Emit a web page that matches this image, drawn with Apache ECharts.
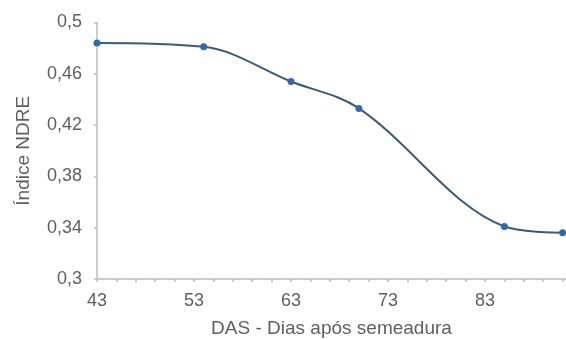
<!DOCTYPE html>
<html>
<head>
<meta charset="utf-8">
<script src="https://cdn.jsdelivr.net/npm/echarts@6/dist/echarts.min.js"></script>
<style>
html,body{margin:0;padding:0;background:#fff;}
#chart{width:566px;height:340px;}
</style>
</head>
<body>
<div id="chart"></div>
<script>
// Data
var dasDays = [43, 54, 63, 70, 85, 91];
var ndreValues = [0.484, 0.481, 0.454, 0.433, 0.341, 0.336];
var xTickLabels = [43, 53, 63, 73, 83];
var yTickLabels = ['0,3', '0,34', '0,38', '0,42', '0,46', '0,5'];
var yTickValues = [0.3, 0.34, 0.38, 0.42, 0.46, 0.5];
var xAxisTitle = 'DAS - Dias após semeadura';
var yAxisTitle = 'Índice NDRE';

var points = dasDays.map(function (d, i) { return [d, ndreValues[i]]; });

var chart = echarts.init(document.getElementById('chart'), null, {renderer: 'canvas'});
var fontFam = '"Liberation Sans", Arial, sans-serif';
var textColor = '#5f5f5f';
var axisColor = '#bcbcbc';

chart.setOption({
  animation: false,
  backgroundColor: '#ffffff',
  grid: {left: 97, right: 0, top: 22.5, bottom: 61, containLabel: false, outerBoundsMode: 'none'},
  xAxis: {
    type: 'value',
    min: 43,
    max: 91.35,
    interval: 2,
    name: xAxisTitle,
    nameLocation: 'middle',
    nameGap: 40,
    nameTextStyle: {color: textColor, fontSize: 19, fontFamily: fontFam},
    axisLine: {show: true, lineStyle: {color: axisColor, width: 1.5}},
    axisTick: {show: true, inside: false, length: 3, lineStyle: {color: axisColor, width: 1.5}},
    splitLine: {show: false},
    axisLabel: {
      color: textColor, fontSize: 18, fontFamily: fontFam, margin: 13,
      showMaxLabel: false,
      formatter: function (v) {
        for (var i = 0; i < xTickLabels.length; i++) {
          if (Math.abs(v - xTickLabels[i]) < 1e-6) return String(xTickLabels[i]);
        }
        return '';
      }
    }
  },
  yAxis: {
    type: 'value',
    min: 0.3,
    max: 0.5,
    interval: 0.04,
    name: yAxisTitle,
    nameLocation: 'middle',
    nameGap: 64,
    nameTextStyle: {color: textColor, fontSize: 19, fontFamily: fontFam},
    axisLine: {show: true, lineStyle: {color: axisColor, width: 1.5}},
    axisTick: {show: true, inside: false, length: 3, lineStyle: {color: axisColor, width: 1.5}},
    splitLine: {show: false},
    axisLabel: {
      color: textColor, fontSize: 18, fontFamily: fontFam, margin: 15,
      formatter: function (v) {
        for (var i = 0; i < yTickValues.length; i++) {
          if (Math.abs(v - yTickValues[i]) < 1e-6) return yTickLabels[i];
        }
        return '';
      }
    }
  },
  series: [{
    type: 'line',
    data: points,
    smooth: 0.35,
    symbol: 'circle',
    symbolSize: 7,
    clip: false,
    lineStyle: {color: '#3b5b7a', width: 2},
    itemStyle: {color: '#3567ae', borderWidth: 0}
  }]
});
</script>
</body>
</html>
